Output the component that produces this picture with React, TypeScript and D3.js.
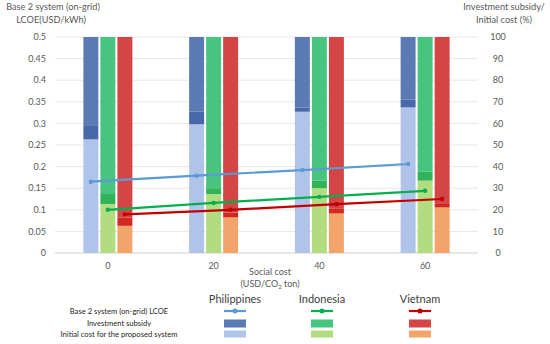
import React from 'react';
import * as d3 from 'd3';

const categories = ['0', '20', '40', '60'];
const countries = ['Philippines', 'Indonesia', 'Vietnam'];

// initial cost for the proposed system (% , top of light bar incl. overlap)
const initialPh = [59.2, 65.4, 67.4, 71.1];
const initialId = [27.3, 30.0, 33.5, 37.6];
const initialVn = [16.5, 18.7, 20.7, 22.7];

// investment subsidy (%), stacked down from 100
const subsidyPh = [47.4, 40.4, 34.6, 32.6];
const subsidyId = [77.3, 72.7, 70.0, 66.5];
const subsidyVn = [87.4, 83.5, 81.7, 78.9];

// Base 2 system (on-grid) LCOE, USD/kWh
const lcoePh = [0.165, 0.179, 0.192, 0.206];
const lcoeId = [0.1, 0.116, 0.13, 0.144];
const lcoeVn = [0.0895, 0.1, 0.113, 0.125];

const leftTicks = [0, 0.05, 0.1, 0.15, 0.2, 0.25, 0.3, 0.35, 0.4, 0.45, 0.5];
const rightTicks = [0, 10, 20, 30, 40, 50, 60, 70, 80, 90, 100];

const series = [
  { name: 'Philippines', initial: initialPh, subsidy: subsidyPh, lcoe: lcoePh,
    dark: '#5b79b3', band: '#4868a9', light: '#b0c3e8', line: '#5b9bd5' },
  { name: 'Indonesia', initial: initialId, subsidy: subsidyId, lcoe: lcoeId,
    dark: '#47c47e', band: '#30b459', light: '#b1dc7f', line: '#00b050' },
  { name: 'Vietnam', initial: initialVn, subsidy: subsidyVn, lcoe: lcoeVn,
    dark: '#d44545', band: '#d2281f', light: '#f2a46b', line: '#c00000' },
];

const W = 550, H = 344;
const font = 'Lato, "Open Sans", sans-serif';
const grey = '#595959';

export default function App() {
  const x = d3.scaleBand().domain(categories).range([55, 478]);
  const inner = d3.scaleBand().domain(countries).range([0, 49]).paddingInner(0.12);
  const yL = d3.scaleLinear().domain([0, 0.5]).range([253, 37]);
  const yR = d3.scaleLinear().domain([0, 100]).range([253, 37]);
  const bw = inner.bandwidth();
  const off = (x.bandwidth() - 49) / 2;
  const cx = (c: string, s: string) => (x(c) as number) + off + (inner(s) as number) + bw / 2;

  const legendX: Record<string, number> = { Philippines: 235, Indonesia: 322, Vietnam: 420 };

  return (
    <svg width={W} height={H} style={{ position: 'absolute', left: 0, top: 0, background: '#fff' }}
      fontFamily={font}>
      {/* grid */}
      {leftTicks.map((t) => (
        <line key={t} x1={55} x2={478} y1={yL(t)} y2={yL(t)}
          stroke={t === 0 ? '#d0d0d0' : '#e8e8e8'} strokeWidth={1} />
      ))}
      {leftTicks.map((t) => (
        <text key={'l' + t} x={46} y={yL(t)} dy="0.35em" textAnchor="end" fontSize={9} fill={grey}>
          {t}
        </text>
      ))}
      {rightTicks.map((t) => (
        <text key={'r' + t} x={498} y={yR(t)} dy="0.35em" textAnchor="middle" fontSize={9} fill={grey}>
          {t}
        </text>
      ))}
      {categories.map((c) => (
        <text key={'x' + c} x={(x(c) as number) + x.bandwidth() / 2} y={266} dy="0.35em"
          textAnchor="middle" fontSize={9} fill={grey}>{c}</text>
      ))}

      {/* bars */}
      {series.map((s) => categories.map((c, i) => {
        const bx = (x(c) as number) + off + (inner(s.name) as number);
        const lightTop = 100 - s.subsidy[i];
        return (
          <g key={s.name + c}>
            <rect x={bx} width={bw} y={yR(lightTop)} height={yR(0) - yR(lightTop)} fill={s.light} />
            <rect x={bx} width={bw} y={yR(s.initial[i])} height={yR(lightTop) - yR(s.initial[i])} fill={s.band} />
            <rect x={bx} width={bw} y={yR(100)} height={yR(s.initial[i]) - yR(100)} fill={s.dark} />
          </g>
        );
      }))}

      {/* LCOE lines */}
      {series.map((s) => (
        <g key={'ln' + s.name}>
          <path d={d3.line<number>().x((_, i) => cx(categories[i], s.name)).y((d) => yL(d))(s.lcoe) || ''}
            fill="none" stroke={s.line} strokeWidth={2.2} />
          {s.lcoe.map((v, i) => (
            <circle key={i} cx={cx(categories[i], s.name)} cy={yL(v)} r={2.2} fill={s.line} />
          ))}
        </g>
      ))}

      {/* axis titles */}
      <text x={53} y={10} textAnchor="middle" fontSize={9.2} fill={grey}>Base 2 system (on-grid)</text>
      <text x={51} y={23} textAnchor="middle" fontSize={9.2} fill={grey}>LCOE(USD/kWh)</text>
      <text x={504} y={10} textAnchor="middle" fontSize={9.2} fill={grey}>Investment subsidy/</text>
      <text x={504} y={23} textAnchor="middle" fontSize={9.2} fill={grey}>Initial cost (%)</text>
      <text x={270} y={272} dy="0.35em" textAnchor="middle" fontSize={9} fill={grey}>Social cost</text>
      <text x={270} y={283.5} dy="0.35em" textAnchor="middle" fontSize={9} fill={grey}>
        (USD/CO<tspan fontSize={6} dy={2}>2</tspan><tspan dy={-2}> ton)</tspan>
      </text>

      {/* legend */}
      {series.map((s) => {
        const lx = legendX[s.name];
        return (
          <g key={'lg' + s.name}>
            <text x={lx} y={299} dy="0.35em" textAnchor="middle" fontSize={11} fill="#404040">{s.name}</text>
            <line x1={lx - 11} x2={lx + 11} y1={311} y2={311} stroke={s.line} strokeWidth={2.2} />
            <circle cx={lx} cy={311} r={2.5} fill={s.line} />
            <rect x={lx - 11} y={319.5} width={22} height={8} fill={s.dark} />
            <rect x={lx - 11} y={330.5} width={22} height={7} fill={s.light} />
          </g>
        );
      })}
      <text x={119} y={311} dy="0.35em" textAnchor="middle" fontSize={7.6} fill="#262626">Base 2 system (on-grid) LCOE</text>
      <text x={119} y={323} dy="0.35em" textAnchor="middle" fontSize={7.6} fill="#262626">Investment subsidy</text>
      <text x={119} y={334} dy="0.35em" textAnchor="middle" fontSize={7.6} fill="#262626">Initial cost for the proposed system</text>
    </svg>
  );
}
